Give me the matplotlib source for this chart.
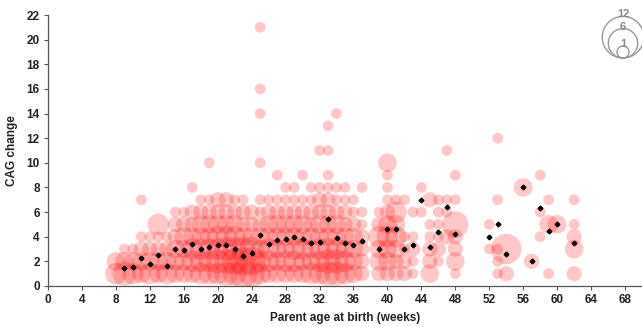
import matplotlib as mpl
mpl.use('Agg')
import matplotlib.pyplot as plt
from matplotlib.patches import Circle

# bubbles: week of parent age, CAG change, number of transmissions
bubble_week = [8, 8,
               9, 9, 9,
               10, 10, 10,
               11, 11, 11, 11, 11,
               12, 12, 12, 12,
               13, 13, 13, 13, 13,
               14, 14, 14, 14,
               15, 15, 15, 15, 15, 15,
               16, 16, 16, 16, 16, 16,
               17, 17, 17, 17, 17, 17, 17,
               18, 18, 18, 18, 18, 18, 18,
               19, 19, 19, 19, 19, 19, 19, 19,
               20, 20, 20, 20, 20, 20, 20,
               21, 21, 21, 21, 21, 21, 21,
               22, 22, 22, 22, 22, 22, 22,
               23, 23, 23, 23, 23, 23, 23,
               24, 24, 24, 24, 24, 24,
               25, 25, 25, 25, 25, 25, 25, 25, 25, 25, 25,
               26, 26, 26, 26, 26, 26, 26,
               27, 27, 27, 27, 27, 27, 27, 27,
               28, 28, 28, 28, 28, 28, 28, 28,
               29, 29, 29, 29, 29, 29, 29, 29,
               30, 30, 30, 30, 30, 30, 30, 30,
               31, 31, 31, 31, 31, 31, 31, 31,
               32, 32, 32, 32, 32, 32, 32, 32, 32,
               33, 33, 33, 33, 33, 33, 33, 33, 33, 33, 33,
               34, 34, 34, 34, 34, 34, 34, 34, 34,
               35, 35, 35, 35, 35, 35, 35, 35,
               36, 36, 36, 36, 36, 36, 36,
               37, 37, 37, 37, 37, 37, 37,
               39, 39, 39, 39, 39, 39,
               40, 40, 40, 40, 40, 40, 40, 40, 40, 40,
               41, 41, 41, 41, 41, 41, 41,
               42, 42, 42, 42, 42,
               43, 43, 43, 43, 43,
               44, 44,
               45, 45, 45, 45, 45, 45,
               46, 46, 46, 46, 46, 46,
               47, 47, 47, 47,
               48, 48, 48, 48, 48, 48, 48,
               52, 52,
               53, 53, 53, 53, 53,
               54, 54,
               56,
               57,
               58, 58, 58,
               59, 59, 59,
               60,
               62, 62, 62, 62, 62]
bubble_cag = [1, 2,
              1, 2, 3,
              1, 2, 3,
              1, 2, 3, 4, 7,
              1, 2, 3, 4,
              1, 2, 3, 4, 5,
              1, 2, 3, 4,
              1, 2, 3, 4, 5, 6,
              1, 2, 3, 4, 5, 6,
              1, 2, 3, 4, 5, 6, 8,
              1, 2, 3, 4, 5, 6, 7,
              1, 2, 3, 4, 5, 6, 7, 10,
              1, 2, 3, 4, 5, 6, 7,
              1, 2, 3, 4, 5, 6, 7,
              1, 2, 3, 4, 5, 6, 7,
              1, 2, 3, 4, 5, 6, 7,
              1, 2, 3, 4, 5, 6,
              1, 2, 3, 4, 5, 6, 7, 10, 14, 16, 21,
              1, 2, 3, 4, 5, 6, 7,
              1, 2, 3, 4, 5, 6, 7, 9,
              1, 2, 3, 4, 5, 6, 7, 8,
              1, 2, 3, 4, 5, 6, 7, 8,
              1, 2, 3, 4, 5, 6, 7, 9,
              1, 2, 3, 4, 5, 6, 7, 8,
              1, 2, 3, 4, 5, 6, 7, 8, 11,
              1, 2, 3, 4, 5, 6, 7, 8, 9, 11, 13,
              1, 2, 3, 4, 5, 6, 7, 8, 14,
              1, 2, 3, 4, 5, 6, 7, 8,
              1, 2, 3, 4, 5, 6, 7,
              1, 2, 3, 4, 5, 6, 8,
              1, 2, 3, 4, 5, 6,
              1, 2, 3, 4, 5, 6, 7, 8, 9, 10,
              1, 2, 3, 4, 5, 6, 7,
              1, 2, 3, 4, 7,
              1, 2, 3, 4, 6,
              6, 8,
              1, 2, 3, 4, 5, 7,
              2, 3, 4, 5, 6, 7,
              4, 6, 7, 11,
              1, 2, 3, 4, 5, 7, 9,
              3, 5,
              1, 2, 3, 7, 12,
              1, 3,
              8,
              2,
              4, 6, 9,
              1, 5, 7,
              5,
              1, 3, 4, 5, 7]
bubble_count = [4, 3,
                5, 3, 1,
                4, 3, 1,
                3, 3, 2, 1, 1,
                4, 3, 2, 1,
                3, 3, 2, 1, 4,
                4, 3, 2, 1,
                3, 3, 3, 2, 2, 1,
                3, 3, 3, 3, 2, 1,
                3, 4, 4, 3, 2, 2, 1,
                4, 4, 4, 3, 3, 2, 1,
                4, 4, 4, 3, 3, 2, 1, 1,
                4, 5, 4, 4, 3, 2, 2,
                5, 5, 5, 4, 3, 2, 2,
                5, 6, 5, 4, 3, 2, 1,
                7, 7, 5, 3, 2, 2, 1,
                6, 7, 5, 3, 2, 2,
                4, 4, 3, 3, 2, 1, 1, 1, 1, 1, 1,
                3, 4, 4, 3, 3, 2, 1,
                3, 3, 3, 3, 3, 2, 1, 1,
                3, 4, 3, 3, 3, 2, 1, 1,
                3, 4, 4, 3, 3, 2, 1, 1,
                3, 3, 4, 3, 3, 2, 1, 1,
                4, 3, 3, 3, 2, 2, 1, 1,
                4, 4, 4, 3, 3, 2, 2, 1, 1,
                5, 5, 4, 3, 3, 2, 2, 1, 1, 1, 1,
                5, 5, 4, 3, 3, 2, 1, 1, 1,
                4, 4, 3, 3, 2, 2, 1, 1,
                3, 3, 3, 3, 2, 1, 1,
                2, 2, 2, 2, 1, 1, 1,
                2, 3, 3, 4, 2, 1,
                2, 3, 3, 4, 3, 2, 1, 1, 1, 3,
                2, 2, 3, 4, 3, 4, 1,
                2, 2, 1, 1, 1,
                1, 1, 2, 1, 1,
                1, 1,
                3, 2, 2, 1, 1, 2,
                1, 2, 1, 1, 1, 1,
                2, 1, 1, 1,
                1, 3, 2, 2, 6, 1, 1,
                1, 1,
                1, 1, 1, 1, 1,
                2, 8,
                3,
                2,
                1, 1, 1,
                1, 3, 1,
                3,
                2, 3, 2, 1, 1]

# mean CAG change per week (black diamonds)
mean_week = [9, 10, 11, 12, 13, 14, 15, 16, 17, 18, 19, 20, 21, 22, 23, 24, 25, 26, 27,
             28, 29, 30, 31, 32, 33, 34, 35, 36, 37,
             39, 40, 41, 42, 43, 44, 45, 46, 47, 48,
             52, 53, 54, 56, 57, 58, 59, 60, 62]
mean_cag = [1.5, 1.55, 2.3, 1.8, 2.55, 1.65, 3.0, 2.9, 3.4, 3.0, 3.2, 3.3, 3.3, 3.0, 2.45, 2.7, 4.15, 3.45, 3.75,
            3.8, 4.0, 3.85, 3.5, 3.6, 5.45, 3.9, 3.5, 3.35, 3.65,
            3.0, 4.6, 4.6, 3.0, 3.3, 7.0, 3.2, 4.35, 6.4, 4.25,
            4.0, 5.0, 2.6, 8.0, 2.0, 6.3, 4.5, 5.0, 3.5]

legend_counts = [12, 6, 1]
legend_label_y = [14, 27, 44]

plt.rcParams['font.family'] = ['Liberation Sans', 'DejaVu Sans']
plt.rcParams['font.weight'] = 'bold'

fig = plt.figure(figsize=(6.42, 3.27), dpi=100)
ax = fig.add_axes([48 / 642, 41 / 327, 594 / 642, 271 / 327])

size_per_count = 60
ax.scatter(bubble_week, bubble_cag, s=[c * size_per_count for c in bubble_count],
           color='#ff0000', alpha=0.22, linewidths=0, zorder=2)
ax.plot(mean_week, mean_cag, ls='none', marker='D', ms=2.4, color='black', zorder=3)

ax.set_xlim(0, 70)
ax.set_ylim(0, 22)
ax.set_xticks(range(0, 69, 4))
ax.set_yticks(range(0, 23, 2))
ax.spines['top'].set_visible(False)
ax.spines['right'].set_visible(False)
for sp in ['left', 'bottom']:
    ax.spines[sp].set_color('#555555')
    ax.spines[sp].set_linewidth(0.9)
ax.tick_params(direction='out', length=3, width=0.8, color='#555555',
               labelsize=8.5, labelcolor='#222222', pad=3)
ax.set_xlabel('Parent age at birth (weeks)', fontsize=8.5, fontweight='bold', color='#222222', labelpad=4)
ax.set_ylabel('CAG change', fontsize=8.5, fontweight='bold', color='#222222', labelpad=6)

# bubble size key, top right
key = fig.add_axes([0, 0, 1, 1])
key.set_xlim(0, 642)
key.set_ylim(327, 0)
key.axis('off')
base_y = 58
for n, ly in zip(legend_counts, legend_label_y):
    r = 12 * n ** 0.5 / 2
    key.add_patch(Circle((623, base_y - r), r, fill=False, ec='#999999', lw=1.0))
    key.text(623, ly, str(n), ha='center', va='center',
             fontsize=8, fontweight='bold', color='#888888')

plt.savefig('out.png', dpi=100)
